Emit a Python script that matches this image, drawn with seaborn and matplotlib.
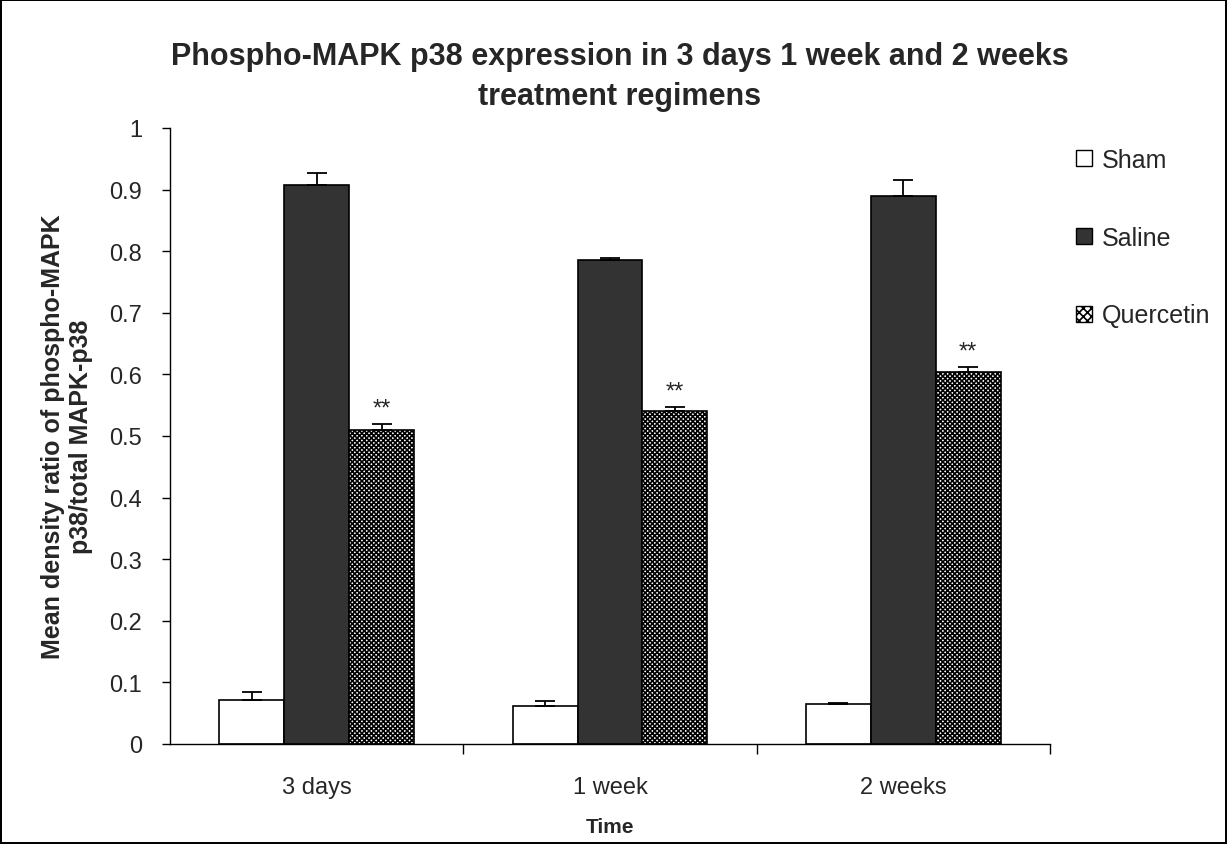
import matplotlib
matplotlib.use("Agg")
import matplotlib.pyplot as plt
import seaborn as sns
import pandas as pd
import numpy as np
from matplotlib.patches import Patch

categories = ["3 days", "1 week", "2 weeks"]
groups = ["Sham", "Saline", "Quercetin"]
sham = [0.072, 0.062, 0.065]
saline = [0.908, 0.786, 0.890]
quercetin = [0.510, 0.541, 0.604]
sham_err = [0.012, 0.007, 0.001]
saline_err = [0.019, 0.003, 0.025]
quercetin_err = [0.009, 0.006, 0.008]
yticks = [0, 0.1, 0.2, 0.3, 0.4, 0.5, 0.6, 0.7, 0.8, 0.9, 1]
ytick_labels = ["0", "0.1", "0.2", "0.3", "0.4", "0.5", "0.6", "0.7", "0.8", "0.9", "1"]

sns.set_theme(style="white")
plt.rcParams['font.family'] = ['Liberation Sans', 'DejaVu Sans']
plt.rcParams['hatch.linewidth'] = 1.2

rows = []
for g, vals in zip(groups, [sham, saline, quercetin]):
    for c, v in zip(categories, vals):
        rows.append({"Time": c, "Group": g, "Value": v})
df = pd.DataFrame(rows)

fig = plt.figure(figsize=(12.27, 8.45), dpi=100)
fig.patch.set_facecolor("white")
fig.patch.set_edgecolor("black")
fig.patch.set_linewidth(1.5)
ax = fig.add_axes([170/1227, 1-745/845, 880/1227, (745-129)/845])

sns.barplot(data=df, x="Time", y="Value", hue="Group", order=categories,
            hue_order=groups, errorbar=None, width=0.664, gap=0,
            palette=["white", "#333333", "white"], edgecolor="black",
            linewidth=1.2, ax=ax, legend=False)

errs = [sham_err, saline_err, quercetin_err]
vals_all = [sham, saline, quercetin]
bar_conts = list(ax.containers)
for i, cont in enumerate(bar_conts):
    for j, bar in enumerate(list(cont.patches)):
        if i == 2:
            bar.set_hatch("xxxxxxx")
        xc = bar.get_x() + bar.get_width() / 2
        ax.errorbar(xc, vals_all[i][j], yerr=[[0], [errs[i][j]]], fmt="none",
                    ecolor="black", elinewidth=1.3, capsize=7, capthick=1.3)
        if i == 2:
            ax.text(xc, vals_all[i][j] + errs[i][j] + 0.008, "**", ha="center",
                    va="bottom", fontsize=17)

ax.set_ylim(0, 1)
ax.set_xlim(-0.5, 2.5)
ax.set_yticks(yticks)
ax.set_yticklabels(ytick_labels, fontsize=17)
ax.tick_params(axis="y", which="major", direction="out", length=6, width=1, color="black", left=True, pad=14)
ax.set_xticks([0, 1, 2])
ax.set_xticklabels(categories, fontsize=17)
ax.tick_params(axis="x", which="major", length=0, pad=23)
ax.set_xticks([0.5, 1.5, 2.5], minor=True)
ax.tick_params(axis="x", which="minor", direction="out", length=7, width=1, color="black", bottom=True)

for s in ["top", "right"]:
    ax.spines[s].set_visible(False)
for s in ["left", "bottom"]:
    ax.spines[s].set_color("black")
    ax.spines[s].set_linewidth(1)

ax.set_xlabel("Time", fontsize=15, fontweight="bold", labelpad=14)
ax.set_ylabel("Mean density ratio of phospho-MAPK\np38/total MAPK-p38", fontsize=18,
              fontweight="bold", linespacing=1.25)
ax.yaxis.label.set_verticalalignment("center")
ax.yaxis.set_label_coords((67 - 170) / 880, 0.5)
fig.text(0.505, 1-77/845, "Phospho-MAPK p38 expression in 3 days 1 week and 2 weeks\ntreatment regimens",
         ha="center", va="center", fontsize=22, fontweight="bold", linespacing=1.45)

handles = [Patch(facecolor="white", edgecolor="black", linewidth=1),
           Patch(facecolor="#333333", edgecolor="black", linewidth=1),
           Patch(facecolor="white", edgecolor="black", linewidth=1, hatch="xxxx")]
fig.legend(handles, groups, loc="upper left", bbox_to_anchor=(1076/1227, 1-149/845),
           frameon=False, fontsize=18, handlelength=0.62, handleheight=0.62,
           handletextpad=0.4, labelspacing=2.15, borderaxespad=0, borderpad=0)

fig.savefig("out.png", dpi=100, facecolor=fig.get_facecolor(), edgecolor=fig.get_edgecolor())
